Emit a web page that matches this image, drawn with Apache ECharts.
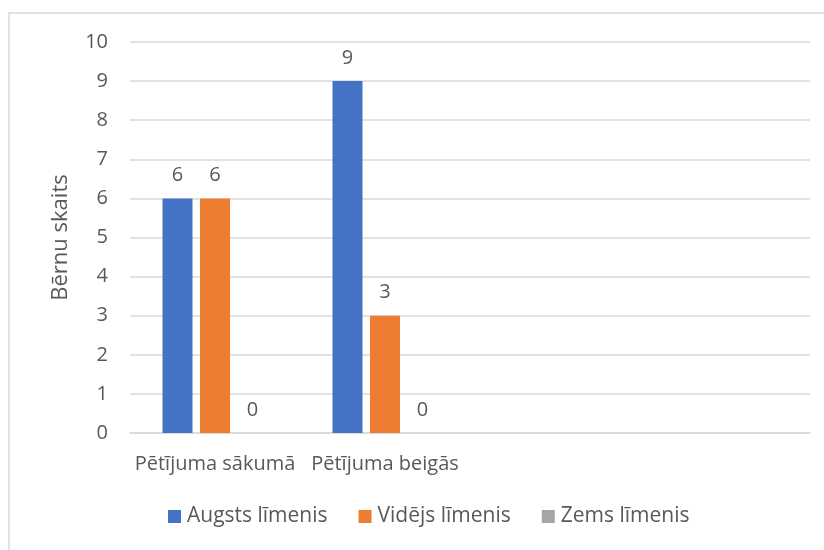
<!DOCTYPE html>
<html><head><meta charset="utf-8">
<script src="https://cdn.jsdelivr.net/npm/echarts@6/dist/echarts.min.js"></script>
<style>html,body{margin:0;padding:0;background:#fff}#c{width:824px;height:550px}</style>
</head><body><div id="c"></div>
<script>
const categories = ['Pētījuma sākumā', 'Pētījuma beigās', '', ''];
const seriesNames = ['Augsts līmenis', 'Vidējs līmenis', 'Zems līmenis'];
const augsts = [6, 9, null, null];
const videjs = [6, 3, null, null];
const zems = [0, 0, null, null];
const yTicks = [0, 1, 2, 3, 4, 5, 6, 7, 8, 9, 10];
const colors = ['#4472C4', '#ED7D31', '#A5A5A5'];
const font = '"Open Sans", sans-serif';
const txt = '#595959';

const chart = echarts.init(document.getElementById('c'));
const mk = (name, data, color) => ({
  name, type: 'bar', data, barWidth: 30, barGap: '25%',
  itemStyle: { color },
  label: { show: true, position: 'top', distance: 13, color: txt, fontSize: 20, fontFamily: font }
});
chart.setOption({
  animation: false,
  textStyle: { fontFamily: font },
  graphic: [{ type: 'rect', shape: { x: 9, y: 13, width: 840, height: 580 }, style: { fill: 'none', stroke: '#d9d9d9', lineWidth: 1.5 }, silent: true }],
  grid: { left: 130, right: 14, top: 42, bottom: 117, containLabel: false },
  legend: {
    data: seriesNames, bottom: 18, left: 163, itemWidth: 13, itemHeight: 13, itemGap: 31,
    icon: 'rect', textStyle: { color: txt, fontSize: 21, fontFamily: font, padding: [0, 0, 0, 1] }
  },
  xAxis: {
    type: 'category', data: categories,
    axisLine: { lineStyle: { color: '#d9d9d9', width: 1.5 } },
    axisTick: { show: false },
    axisLabel: { color: txt, fontSize: 20, fontFamily: font, margin: 21, interval: 0 }
  },
  yAxis: {
    type: 'value', min: yTicks[0], max: yTicks[yTicks.length - 1], interval: 1,
    name: 'Bērnu skaits', nameLocation: 'middle', nameGap: 58, nameRotate: 90,
    nameTextStyle: { color: txt, fontSize: 22, fontFamily: font },
    axisLine: { show: false }, axisTick: { show: false },
    axisLabel: { color: txt, fontSize: 20, fontFamily: font, margin: 22 },
    splitLine: { lineStyle: { color: '#d9d9d9', width: 1.5 } }
  },
  series: [mk(seriesNames[0], augsts, colors[0]), mk(seriesNames[1], videjs, colors[1]), mk(seriesNames[2], zems, colors[2])]
});
</script></body></html>
